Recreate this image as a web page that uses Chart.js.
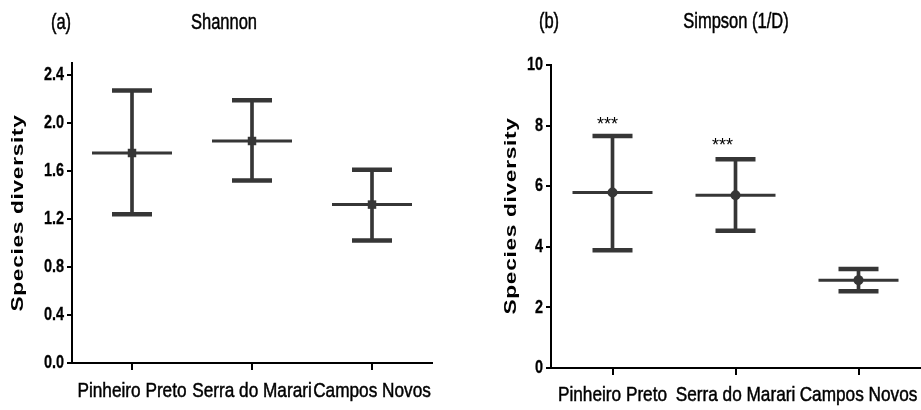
<!DOCTYPE html>
<html>
<head>
<meta charset="utf-8">
<script src="https://cdn.jsdelivr.net/npm/chart.js@4/dist/chart.umd.min.js"></script>
<style>
  html, body { margin: 0; padding: 0; background: #fff; }
  #wrap { position: relative; width: 921px; height: 410px; }
  .panel { position: absolute; top: 0; height: 410px; }
</style>
</head>
<body>
<div id="wrap">
  <div class="panel" style="left:0;width:460px"><canvas id="shannon" width="460" height="410"></canvas></div>
  <div class="panel" style="left:460px;width:461px"><canvas id="simpson" width="461" height="410"></canvas></div>
</div>
<script>
// Sites sampled
const categories = ['Pinheiro Preto', 'Serra do Marari', 'Campos Novos'];

// Shannon index: mean with lower / upper whiskers
const shannonMean = [1.75, 1.85, 1.32];
const shannonLow  = [1.24, 1.52, 1.02];
const shannonHigh = [2.27, 2.19, 1.61];
const shannonTicks = [0, 0.4, 0.8, 1.2, 1.6, 2.0, 2.4];

// Simpson (1/D): mean with lower / upper whiskers
const simpsonMean = [5.79, 5.70, 2.90];
const simpsonLow  = [3.89, 4.53, 2.53];
const simpsonHigh = [7.66, 6.89, 3.27];
const simpsonTicks = [0, 2, 4, 6, 8, 10];
const simpsonMarks = ['***', '***', ''];

const INK = '#363636';
const SANS = '"Liberation Sans", Arial, sans-serif';

// Draws text squeezed horizontally around its anchor, with a faint outline for weight
function narrowText(ctx, str, x, y, align, squeeze, weight) {
  ctx.save();
  ctx.translate(x, y);
  ctx.scale(squeeze, 1);
  ctx.textAlign = align;
  ctx.fillText(str, 0, 0);
  if (weight) {
    ctx.strokeStyle = ctx.fillStyle;
    ctx.lineWidth = weight;
    ctx.strokeText(str, 0, 0);
  }
  ctx.restore();
}

// Tick labels, panel tag, title, rotated y title and significance marks
const panelText = {
  id: 'panelText',
  afterDraw(chart, args, o) {
    const ctx = chart.ctx;
    const xs = chart.scales.x, ys = chart.scales.y;
    ctx.save();
    ctx.fillStyle = '#000';

    // category labels
    ctx.font = '21px ' + SANS;
    ctx.textBaseline = 'alphabetic';
    xs.ticks.forEach((t, i) => {
      narrowText(ctx, String(t.label), xs.getPixelForTick(i), xs.top + o.xLabelDrop, 'center', 0.82, 0.5);
    });

    // value labels
    ctx.font = 'bold 19px ' + SANS;
    ctx.textBaseline = 'middle';
    ys.ticks.forEach((t, i) => {
      if (t.label === null || t.label === undefined) return;
      narrowText(ctx, String(t.label), ys.right - 8, ys.getPixelForTick(i), 'right', 0.76, 0.3);
    });

    // tag and title
    ctx.font = '22px ' + SANS;
    ctx.textBaseline = 'alphabetic';
    narrowText(ctx, o.tag, o.tagX, o.baseline, 'center', 0.75, 0.5);
    narrowText(ctx, o.title, o.titleX, o.baseline, 'center', 0.75, 0.5);

    // y-axis title, stretched and letter spaced
    ctx.save();
    ctx.translate(o.yTitleX, o.yTitleY);
    ctx.rotate(-Math.PI / 2);
    ctx.font = 'bold 16px ' + SANS;
    ctx.letterSpacing = '0.5px';
    const w = ctx.measureText(o.yTitle).width;
    ctx.scale(o.yTitleLen / w, 1);
    ctx.textAlign = 'center';
    ctx.textBaseline = 'middle';
    ctx.fillText(o.yTitle, 0, 0);
    ctx.restore();

    if (o.marks) {
      ctx.font = '18px ' + SANS;
      ctx.textBaseline = 'middle';
      ctx.textAlign = 'center';
      o.marks.forEach((m, i) => {
        if (!m) return;
        const x = xs.getPixelForValue(i) + (o.markShift[i] || 0);
        const y = ys.getPixelForValue(o.markRef[i]) - o.markGap[i];
        ctx.fillText(m, x, y);
      });
    }
    ctx.restore();
  }
};

function buildPanel(id, mean, low, high, yCfg, marker, text, box) {
  const datasets = [
    { // vertical whisker
      type: 'bar',
      data: low.map((l, i) => [l, high[i]]),
      backgroundColor: INK,
      borderWidth: 0,
      barThickness: 3,
      order: 5
    },
    { // upper caps
      type: 'line', data: high, showLine: false,
      pointStyle: 'line', pointRadius: 20, borderColor: INK, borderWidth: 4.5, order: 4
    },
    { // lower caps
      type: 'line', data: low, showLine: false,
      pointStyle: 'line', pointRadius: 20, borderColor: INK, borderWidth: 4.5, order: 3
    },
    { // mean bar
      type: 'line', data: mean, showLine: false,
      pointStyle: 'line', pointRadius: 40, borderColor: INK, borderWidth: 3, order: 2
    },
    { // mean marker
      type: 'line', data: mean, showLine: false,
      pointStyle: marker.style, pointRadius: marker.radius,
      backgroundColor: INK, borderColor: INK, borderWidth: 0, order: 1
    }
  ];

  return new Chart(document.getElementById(id), {
    type: 'bar',
    data: { labels: categories, datasets },
    plugins: [panelText],
    options: {
      responsive: false,
      animation: false,
      events: [],
      layout: { autoPadding: false, padding: { top: box.top, right: box.right, bottom: 0, left: 0 } },
      plugins: {
        legend: { display: false },
        tooltip: { enabled: false },
        panelText: text
      },
      scales: {
        x: {
          type: 'category',
          offset: true,
          grid: { offset: false, drawOnChartArea: false, drawTicks: true, tickLength: 7, color: '#000', lineWidth: 2 },
          border: { display: true, color: '#000', width: 2 },
          ticks: { display: false, autoSkip: false, maxRotation: 0 },
          afterFit(s) { s.height = box.xHeight; }
        },
        y: {
          min: yCfg.ticks[0],
          max: yCfg.max,
          afterBuildTicks(s) { s.ticks = yCfg.ticks.map(v => ({ value: v })); },
          grid: { drawOnChartArea: false, drawTicks: true, tickLength: 5, color: '#000', lineWidth: 2 },
          border: { display: true, color: '#000', width: 2 },
          ticks: { display: false, callback: v => yCfg.fmt(v) },
          afterFit(s) { s.width = box.yWidth; }
        }
      }
    }
  });
}

buildPanel('shannon', shannonMean, shannonLow, shannonHigh,
  { ticks: shannonTicks, max: 2.5, fmt: v => v.toFixed(1) },
  { style: 'rect', radius: 6 },
  { tag: '(a)', tagX: 61, title: 'Shannon', titleX: 224, baseline: 29, xLabelDrop: 34,
    yTitle: 'Species diversity', yTitleX: 19, yTitleY: 213, yTitleLen: 197 },
  { top: 63, right: 28, xHeight: 47, yWidth: 72 });

buildPanel('simpson', simpsonMean, simpsonLow, simpsonHigh,
  { ticks: simpsonTicks, max: 10, fmt: v => String(v) },
  { style: 'circle', radius: 5 },
  { tag: '(b)', tagX: 89, title: 'Simpson (1/D)', titleX: 276, baseline: 28, xLabelDrop: 33,
    yTitle: 'Species diversity', yTitleX: 52, yTitleY: 216, yTitleLen: 197,
    marks: simpsonMarks, markRef: simpsonHigh, markShift: [-5, -13], markGap: [11, 13] },
  { top: 65, right: 1, xHeight: 42, yWidth: 91 });
</script>
</body>
</html>
